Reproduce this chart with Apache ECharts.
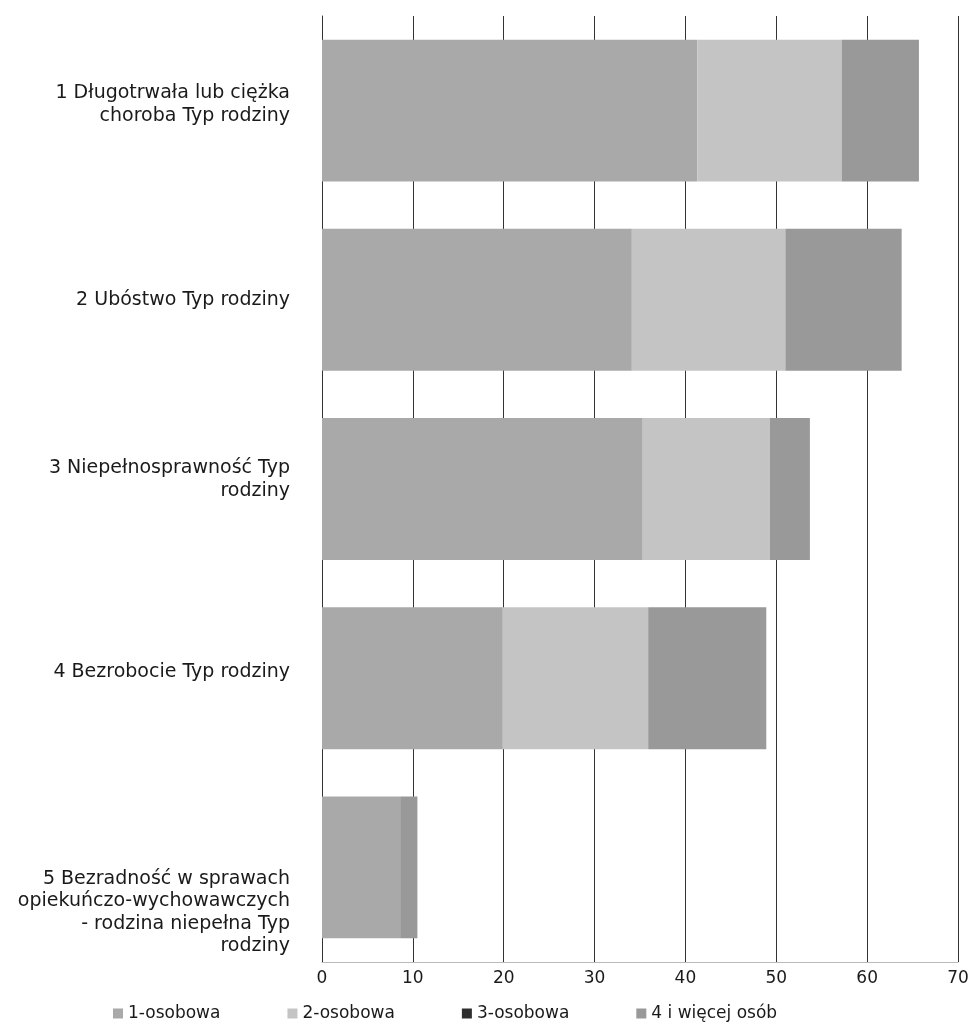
<!DOCTYPE html>
<html>
<head>
<meta charset="utf-8">
<script src="https://cdn.jsdelivr.net/npm/echarts@6/dist/echarts.min.js"></script>
<style>
html,body{margin:0;padding:0;background:#fff;}
#c{width:969px;height:1033px;}
</style>
</head>
<body>
<div id="c"></div>
<script>
const categories = [
  "1 Długotrwała lub ciężka\nchoroba Typ rodziny",
  "2 Ubóstwo Typ rodziny",
  "3 Niepełnosprawność Typ\nrodziny",
  "4 Bezrobocie Typ rodziny",
  "5 Bezradność w sprawach\nopiekuńczo-wychowawczych\n- rodzina niepełna Typ\nrodziny"
];
const seriesNames = ["1-osobowa", "2-osobowa", "3-osobowa", "4 i więcej osób"];
const osob1 = [41.3, 34.1, 35.3, 19.9, 8.6];
const osob2 = [15.9, 16.9, 14.0, 16.0, 0];
const osob3 = [0, 0, 0, 0, 0];
const osob4 = [8.5, 12.8, 4.4, 13.0, 1.9];
const xTicks = [0, 10, 20, 30, 40, 50, 60, 70];

const colors = ["#a9a9a9", "#c4c4c4", "#2e2e2e", "#999999"];
const seriesData = [osob1, osob2, osob3, osob4];
const FONT = 'DejaVu Sans, Liberation Sans, Arial, sans-serif';

const chart = echarts.init(document.getElementById('c'));
const labelStyle = ['up1', 'mid', 'up', 'up1', 'down'];
chart.setOption({
  backgroundColor: '#ffffff',
  animation: false,
  grid: { left: 322, right: 11, top: 16, bottom: 71, containLabel: false, outerBoundsMode: 'none' },
  legend: {
    bottom: 6,
    left: 108,
    itemWidth: 10,
    itemHeight: 10,
    itemGap: 67,
    icon: 'rect',
    textStyle: { fontFamily: FONT, fontSize: 17, color: '#1a1a1a' },
    data: seriesNames
  },
  xAxis: {
    type: 'value',
    min: xTicks[0],
    max: xTicks[xTicks.length - 1],
    interval: 10,
    axisLine: { show: true, lineStyle: { color: '#bbb', width: 1 } },
    axisTick: { show: false },
    splitLine: { show: true, lineStyle: { color: '#333', width: 1 } },
    axisLabel: { fontFamily: FONT, fontSize: 17, color: '#1a1a1a', margin: 8 }
  },
  yAxis: {
    type: 'category',
    inverse: true,
    data: categories,
    axisLine: { show: true, lineStyle: { color: '#333', width: 1 } },
    axisTick: { show: false },
    axisLabel: {
      margin: 32,
      fontFamily: FONT,
      fontSize: 19,
      color: '#1a1a1a',
      align: 'right',
      formatter: function (v, i) {
        const st = labelStyle[i];
        return v.split('\n').map(l => '{' + st + '|' + l + '}').join('\n');
      },
      rich: {
        up1: { fontSize: 19, lineHeight: 23, padding: [0, 0, 12, 0], fontFamily: FONT, color: '#1a1a1a' },
        up: { fontSize: 19, lineHeight: 23, padding: [0, 0, 18, 0], fontFamily: FONT, color: '#1a1a1a' },
        mid: { fontSize: 19, lineHeight: 23, fontFamily: FONT, color: '#1a1a1a' },
        down: { fontSize: 19, lineHeight: 22.5, padding: [90, 0, 0, 0], fontFamily: FONT, color: '#1a1a1a' }
      }
    }
  },
  series: seriesNames.map((n, k) => ({
    name: n,
    type: 'bar',
    stack: 'total',
    barWidth: '75%',
    itemStyle: { color: colors[k] },
    data: seriesData[k]
  }))
});
</script>
</body>
</html>
